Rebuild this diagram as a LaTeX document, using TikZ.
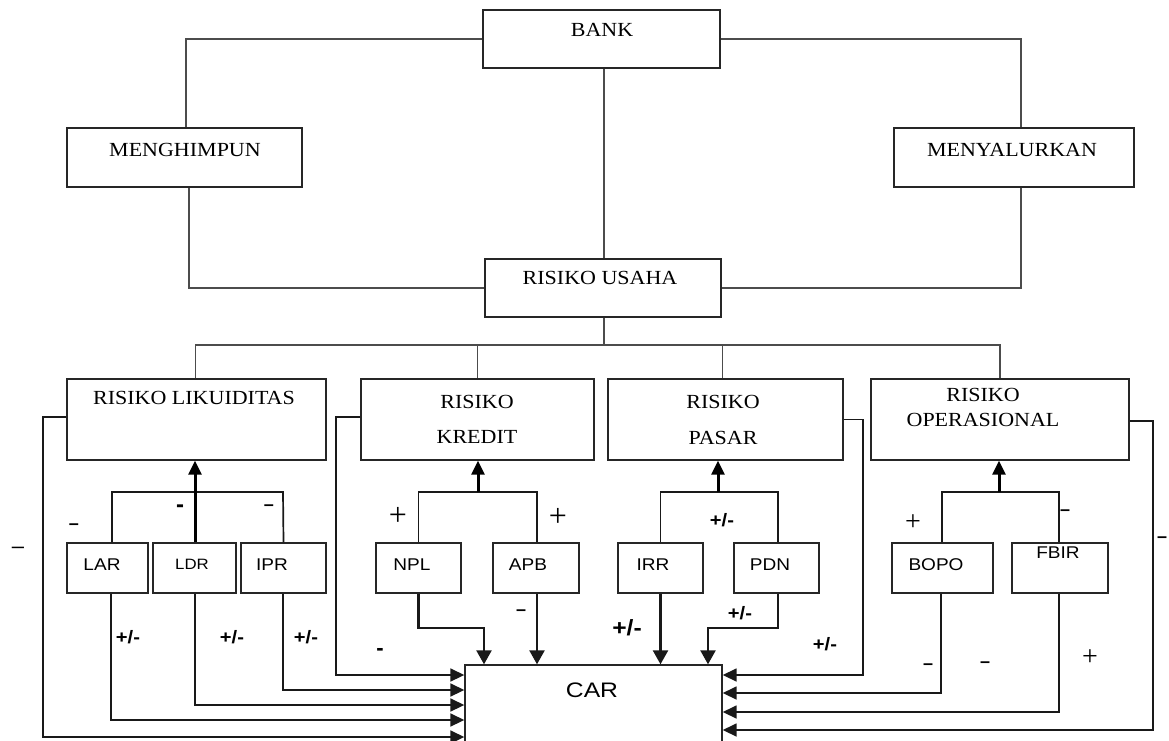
\documentclass[tikz,border=0pt]{standalone}
\usepackage{fontspec}
\setmainfont{Liberation Serif}
\setsansfont{Liberation Sans}
\usetikzlibrary{arrows.meta}
\begin{document}
\begin{tikzpicture}[x=1pt,y=-1pt,
  box/.style={draw=black!85, line width=1.4pt, rectangle, inner sep=0pt},
  tl/.style={line width=1.4pt, draw=black!70},
  ml/.style={line width=1.7pt, draw=black!90},
  mk/.style={line width=2.4pt, draw=black!90},
  tk/.style={line width=3pt},
  arr/.style={-{Triangle[length=14pt,width=13pt]}},
  arrb/.style={-{Triangle[length=14pt,width=15pt]}},
  serif/.style={font=\fontsize{20}{22}\selectfont, xscale=1.1, inner sep=0pt},
  sans/.style={font=\sffamily\fontsize{17}{20}\selectfont, xscale=1.12, inner sep=0pt},
  sg/.style={font=\sffamily\bfseries\fontsize{18}{20}\selectfont, xscale=1.12, inner sep=0pt},
  mns/.style={font=\sffamily\bfseries\fontsize{18}{20}\selectfont, inner sep=0pt},
  pls/.style={font=\fontsize{32}{34}\selectfont, inner sep=0pt},
]
\clip (0,0) rectangle (1169,740);
\fill[white] (0,0) rectangle (1169,740);

% top level boxes
\node[box, minimum width=237pt, minimum height=58pt] (bank) at (601.5,39) {};
\node[box, minimum width=235pt, minimum height=59pt] (mengh) at (184.5,157.5) {};
\node[box, minimum width=240pt, minimum height=59pt] (menya) at (1014,157.5) {};
\node[box, minimum width=236pt, minimum height=58pt] (usaha) at (603,288) {};

\node[serif] (tbank) at (602,30) {BANK};
\node[serif] (tmengh) at (185,150) {MENGHIMPUN};
\node[serif] (tmenya) at (1012,150) {MENYALURKAN};
\node[serif] (tusaha) at (600,278) {RISIKO USAHA};

% level 2 boxes
\node[box, minimum width=259pt, minimum height=81pt] (lik) at (196.5,419.5) {};
\node[box, minimum width=233pt, minimum height=81pt] (kre) at (477.5,419.5) {};
\node[box, minimum width=235pt, minimum height=81pt] (pas) at (725.5,419.5) {};
\node[box, minimum width=258pt, minimum height=81pt] (ope) at (1000,419.5) {};

\node[serif] (tlik) at (194,398) {RISIKO LIKUIDITAS};
\node[serif] (tkre1) at (477,402) {RISIKO};
\node[serif] (tkre2) at (477,437) {KREDIT};
\node[serif] (tpas1) at (723,402) {RISIKO};
\node[serif] (tpas2) at (723,438) {PASAR};
\node[serif] (tope1) at (983,395) {RISIKO};
\node[serif] (tope2) at (983,420) {OPERASIONAL};

% level 3 boxes
\node[box, minimum width=81pt, minimum height=50pt] (lar) at (107.5,568) {};
\node[box, minimum width=83pt, minimum height=50pt] (ldr) at (194.5,568) {};
\node[box, minimum width=85pt, minimum height=50pt] (ipr) at (283.5,568) {};
\node[box, minimum width=85pt, minimum height=50pt] (npl) at (418.5,568) {};
\node[box, minimum width=86pt, minimum height=50pt] (apb) at (536,568) {};
\node[box, minimum width=85pt, minimum height=50pt] (irr) at (660.5,568) {};
\node[box, minimum width=85pt, minimum height=50pt] (pdn) at (776.5,568) {};
\node[box, minimum width=101pt, minimum height=50pt] (bopo) at (942.5,568) {};
\node[box, minimum width=96pt, minimum height=50pt] (fbir) at (1060,568) {};

\node[sans] (tlar) at (102,565) {LAR};
\node[sans, font=\sffamily\fontsize{15}{18}\selectfont] (tldr) at (192,564) {LDR};
\node[sans] (tipr) at (272,565) {IPR};
\node[sans] (tnpl) at (412,565) {NPL};
\node[sans] (tapb) at (528,565) {APB};
\node[sans] (tirr) at (653,565) {IRR};
\node[sans] (tpdn) at (770,565) {PDN};
\node[sans] (tbopo) at (936,565) {BOPO};
\node[sans] (tfbir) at (1058,553) {FBIR};

% CAR
\node[box, minimum width=257pt, minimum height=110pt] (car) at (593.5,720) {};
\node[sans, font=\sffamily\fontsize{21}{24}\selectfont, xscale=1.05] (tcar) at (592,690) {CAR};

% top connectors
\draw[tl] (bank.west) -| ([xshift=1.5pt]mengh.north);
\draw[tl] (bank.east) -| ([xshift=7pt]menya.north);
\draw[tl] ([xshift=4.5pt]mengh.south) |- (usaha.west);
\draw[tl] ([xshift=7pt]menya.south) |- (usaha.east);
\draw[tl] ([xshift=2.5pt]bank.south) -- ([xshift=1pt]usaha.north);
\coordinate (bus) at (604,345);
\draw[tl] ([xshift=1pt]usaha.south) -- (bus);
\draw[tl] ([xshift=-1pt]lik.north) |- (bus) -| (ope.north);
\draw[tl] (kre.north) -- (kre.north |- bus);
\draw[tl] ([xshift=-3pt]pas.north) -- ([xshift=-3pt]pas.north |- bus);

% trees level3 -> level2
\draw[ml] ([xshift=4.5pt]lar.north) |- (283,492) -- (ipr.north);
\draw[tk,arr] ([xshift=0.5pt]ldr.north) -- ([xshift=-1.5pt]lik.south);
\draw[ml] (npl.north) |- (537,492) -- ([xshift=1pt]apb.north);
\draw[tk,arr] (478,492) -- ([xshift=0.5pt]kre.south);
\draw[ml] (irr.north) |- (778,492) -- ([xshift=1.5pt]pdn.north);
\draw[tk,arr] (718,492) -- ([xshift=-7.5pt]pas.south);
\draw[ml] ([xshift=-0.5pt]bopo.north) |- (1059,492) -- ([xshift=-1pt]fbir.north);
\draw[tk,arr] (999,492) -- ([xshift=-1pt]ope.south);

% left connectors into CAR
\draw[ml,arr] ([yshift=2.5pt]kre.west) -| (336,675) -- (car.west |- 0,675);
\draw[ml,arr] ([xshift=-0.5pt]ipr.south) |- (car.west |- 0,690);
\draw[ml,arr] ([xshift=0.5pt]ldr.south) |- (car.west |- 0,705);
\draw[ml,arr] ([xshift=3.5pt]lar.south) |- (car.west |- 0,720);
\draw[ml,arr] ([yshift=2.5pt]lik.west) -| (43,737) -- (car.west |- 0,737);

% top connectors into CAR
\draw[mk,arrb] (npl.south) |- (484,628) -- (car.north -| 484,0);
\draw[mk,arrb] ([xshift=1pt]apb.south) -- ([xshift=1pt]apb.south |- car.north);
\draw[mk,arrb] (irr.south) -- (irr.south |- car.north);
\draw[mk,arrb] ([xshift=1.5pt]pdn.south) |- (708,628) -- (car.north -| 708,0);

% right connectors into CAR
\draw[ml,arr] (pas.east) -| (863,675) -- (car.east |- 0,675);
\draw[ml,arr] ([xshift=-1.5pt]bopo.south) |- (car.east |- 0,693);
\draw[ml,arr] ([xshift=-1pt]fbir.south) |- (car.east |- 0,712);
\draw[ml,arr] ([yshift=-1.5pt]ope.east) -| (1153,730) -- (car.east |- 0,730);

% sign labels
\node[mns] (s1) at (74,527) {–};
\node[mns, font=\sffamily\bfseries\fontsize{24}{26}\selectfont] (s2) at (180,509) {-};
\node[mns] (s3) at (269,508) {–};
\node[mns, font=\sffamily\fontsize{22}{24}\selectfont] (s4) at (18,550) {–};
\node[sg] (s5) at (128,637) {+/-};
\node[sg] (s6) at (232,637) {+/-};
\node[sg] (s7) at (306,637) {+/-};
\node[mns, font=\sffamily\bfseries\fontsize{22}{24}\selectfont] (s8) at (380,652) {-};
\node[pls] (s9) at (398,516) {+};
\node[pls] (s10) at (558,517) {+};
\node[mns] (s11) at (521,613) {–};
\node[sg] (s12) at (722,520) {+/-};
\node[sg, font=\sffamily\bfseries\fontsize{22}{24}\selectfont] (s13) at (627,628) {+/-};
\node[sg] (s14) at (740,613) {+/-};
\node[sg] (s15) at (825,644) {+/-};
\node[pls, font=\fontsize{28}{30}\selectfont] (s16) at (913,523) {+};
\node[mns] (s17) at (1065,513) {–};
\node[mns] (s18) at (928,667) {–};
\node[mns] (s19) at (985,665) {–};
\node[pls, font=\fontsize{28}{30}\selectfont] (s20) at (1090,658) {+};
\node[mns] (s21) at (1162,540) {–};
\end{tikzpicture}
\end{document}
